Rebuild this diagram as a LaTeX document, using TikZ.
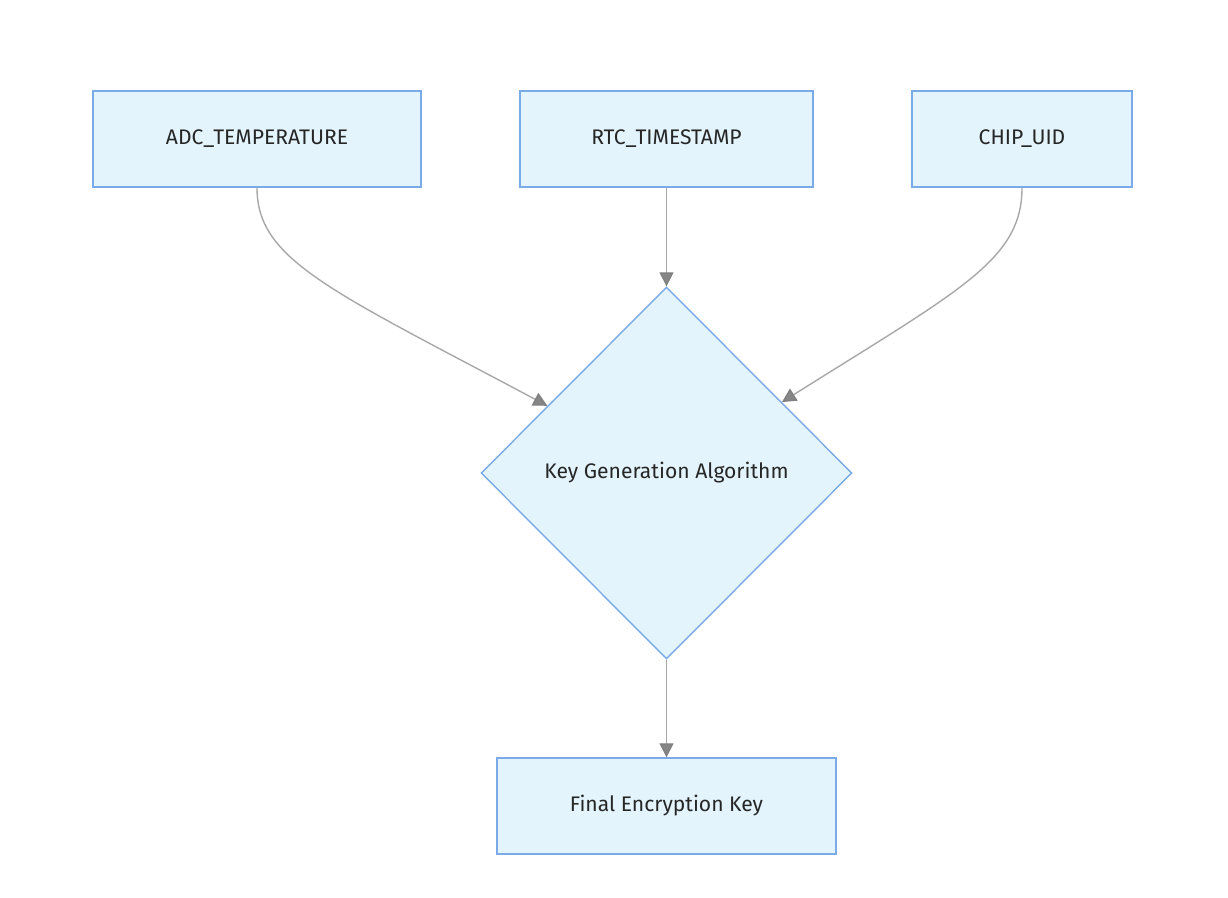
\documentclass[tikz,border=0pt]{standalone}
\usepackage{fontspec}
\setmainfont{Fira Sans}
\usetikzlibrary{shapes.geometric, arrows.meta, calc}
\definecolor{boxfill}{HTML}{E3F4FC}
\definecolor{boxline}{HTML}{7AAAE8}
\definecolor{linkgray}{HTML}{A8A8A8}
\tikzstyle{module} = [rectangle, minimum height=1.92cm, text centered, draw=boxline, fill=boxfill, line width=0.8pt, font=\fontsize{12}{14}\selectfont, text=black!85]
\tikzstyle{decision} = [diamond, minimum width=7.42cm, minimum height=7.44cm, inner sep=0pt, text centered, draw=boxline, fill=boxfill, line width=0.8pt, font=\fontsize{12}{14}\selectfont, text=black!85]
\tikzstyle{link} = [draw=linkgray, line width=0.8pt, -{Triangle[length=8pt, width=8pt, fill=linkgray!80!black, color=black!50]}]

\begin{document}
\begin{tikzpicture}[x=0.02cm, y=-0.02cm]
        \useasboundingbox (0,0) rectangle (1228,897);
        \node[module, minimum width=6.56cm] (adc) at (257,139) {ADC\_TEMPERATURE};
        \node[module, minimum width=5.86cm] (rtc) at (666.5,139) {RTC\_TIMESTAMP};
        \node[module, minimum width=4.40cm] (uid) at (1022,139) {CHIP\_UID};
        \node[decision] (keygen) at (666.5,473) {Key Generation Algorithm};
        \node[module, minimum width=6.78cm] (final) at (666.5,806) {Final Encryption Key};

        \coordinate (inLeft) at ($(keygen.north)!0.64!(keygen.west)$);
        \coordinate (inRight) at ($(keygen.north)!0.62!(keygen.east)$);

        \draw[link] (adc.south) .. controls (257,260) and (330,290) .. (inLeft);
        \draw[link] (rtc.south) -- (keygen.north);
        \draw[link] (uid.south) .. controls (1022,260) and (960,290) .. (inRight);
        \draw[link] (keygen.south) -- (final.north);
    \end{tikzpicture}
\end{document}
